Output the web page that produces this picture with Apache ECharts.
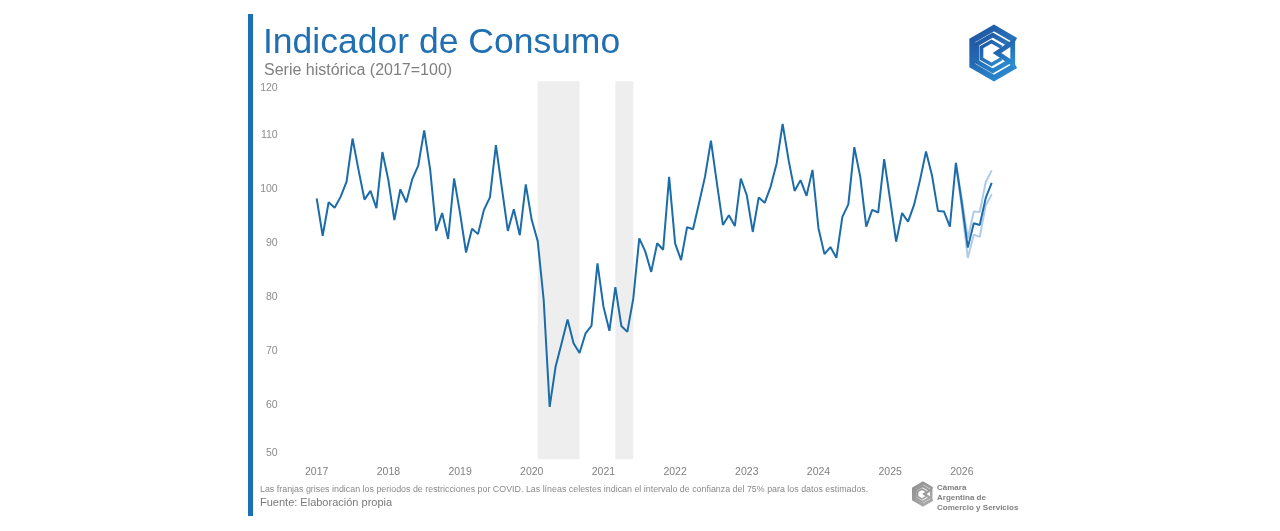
<!DOCTYPE html>
<html>
<head>
<meta charset="utf-8">
<script src="https://cdn.jsdelivr.net/npm/echarts@6/dist/echarts.min.js"></script>
<style>
html,body{margin:0;padding:0;background:#fff;}
#chart{width:1280px;height:531px;}
</style>
</head>
<body>
<div id="chart"></div>
<script>
// ---- data ----
var startYear = 2017;
var monthCount = 114; // Jan 2017 .. Jun 2026
var yTicks = [50, 60, 70, 80, 90, 100, 110, 120];

var consumo = [
  98.3, 91.4, 97.6, 96.6, 98.6, 101.4, 109.4, 103.6, 98.1, 99.7, 96.5, 106.9,
  101.7, 94.3, 100.0, 97.6, 101.9, 104.4, 110.9, 103.6, 92.3, 95.6, 90.8, 102.0,
  95.6, 88.3, 92.7, 91.7, 96.2, 98.5, 108.2, 100.2, 92.3, 96.3, 91.5, 100.9,
  94.3, 90.4, 79.5, 59.7, 67.2, 71.5, 75.9, 71.5, 69.7, 73.3, 74.7, 86.3,
  78.3, 73.8, 81.9, 74.7, 73.6, 79.8, 90.9, 88.5, 84.7, 90.0, 88.8, 102.3,
  90.0, 86.9, 93.0, 92.6, 97.4, 102.3, 109.0, 101.1, 93.4, 95.2, 93.2, 102.0,
  98.9, 92.1, 98.5, 97.5, 100.5, 104.8, 112.1, 105.4, 99.7, 101.7, 98.8, 103.6,
  92.8, 88.0, 89.3, 87.3, 94.9, 97.2, 107.8, 102.3, 93.1, 96.2, 95.7, 105.6,
  98.0, 90.3, 95.6, 94.0, 97.1, 101.7, 107.0, 102.6, 96.0, 95.9, 93.1, 104.9,
  97.4, 89.2, 93.7, 93.4, 98.4, 101.2
];
// confidence interval (75%) for estimated months, starting at index 107
var ciStart = 107;
var ciUpper = [104.9, 98.3, 90.9, 95.9, 95.8, 101.3, 103.5];
var ciLower = [104.9, 96.5, 87.3, 91.6, 91.2, 97.0, 99.1];
// COVID restriction bands (category indices)
var covidBands = [[37, 44], [50, 53]];

// ---- build ----
var categories = [];
for (var i = 0; i < monthCount; i++) {
  var y = startYear + Math.floor(i / 12);
  var m = (i % 12) + 1;
  categories.push(y + '-' + (m < 10 ? '0' + m : m));
}
function padSeries(start, vals) {
  var out = [];
  for (var i = 0; i < monthCount; i++) out.push(null);
  for (var j = 0; j < vals.length; j++) out[start + j] = vals[j];
  return out;
}

var chart = echarts.init(document.getElementById('chart'), null, {renderer: 'canvas'});

var blue = '#1b6ca8';
var light = '#aecbe8';

function hexPts(cx, cy, r) {
  var p = [];
  for (var k = 0; k < 6; k++) {
    var a = Math.PI / 180 * (-90 + 60 * k);
    p.push([cx + r * Math.cos(a), cy + r * Math.sin(a)]);
  }
  return p;
}
function cPts(cx, cy, r) {
  var h = hexPts(cx, cy, r);
  return [h[1], h[0], h[5], h[4], h[3], h[2]];
}
function logo(cx, cy, r, col1, col2, lw) {
  var grad = new echarts.graphic.LinearGradient(0, 0, 1, 1, [
    {offset: 0, color: col1}, {offset: 1, color: col2}]);
  return [
    {type: 'polyline', shape: {points: cPts(cx, cy, r)}, style: {stroke: grad, lineWidth: lw, fill: null, lineJoin: 'miter'}},
    {type: 'polyline', shape: {points: cPts(cx - r * 0.05, cy, r * 0.72)}, style: {stroke: grad, lineWidth: lw * 0.75, fill: null, lineJoin: 'miter'}},
    {type: 'polyline', shape: {points: cPts(cx - r * 0.1, cy, r * 0.46)}, style: {stroke: grad, lineWidth: lw * 0.6, fill: null, lineJoin: 'miter'}},
    {type: 'polygon', shape: {points: [[cx + r * 0.75, cy - r * 0.42], [cx + r * 0.75, cy + r * 0.42], [cx + r * 0.12, cy]]}, style: {stroke: grad, lineWidth: lw * 0.8, fill: null}}
  ];
}

var graphics = [
  {type: 'rect', shape: {x: 248, y: 14, width: 5, height: 502}, style: {fill: '#1a6fb5'}},
  {type: 'text', left: 263, top: 25, style: {text: 'Indicador de Consumo', fontFamily: 'Liberation Sans, Arial, sans-serif', fontSize: 35.5, fill: '#1f6fb2'}},
  {type: 'text', left: 264, top: 63, style: {text: 'Serie histórica (2017=100)', fontFamily: 'Liberation Sans, Arial, sans-serif', fontSize: 16, fill: '#7f7f7f'}},
  {type: 'text', left: 260, top: 485, style: {text: 'Las franjas grises indican los periodos de restricciones por COVID. Las líneas celestes indican el intervalo de confianza del 75% para los datos estimados.', fontFamily: 'Liberation Sans, Arial, sans-serif', fontSize: 8.9, fill: '#8a8a8a'}},
  {type: 'text', left: 260, top: 497.5, style: {text: 'Fuente: Elaboración propia', fontFamily: 'Liberation Sans, Arial, sans-serif', fontSize: 11, fill: '#7a7a7a'}},
  {type: 'text', left: 937, top: 482.5, style: {text: 'Cámara\nArgentina de\nComercio y Servicios', fontFamily: 'Liberation Sans, Arial, sans-serif', fontSize: 8, fontWeight: 'bold', lineHeight: 10, fill: '#808080'}}
];
graphics = graphics.concat(logo(994, 53, 25, '#1f4f9a', '#2b93d9', 6));
graphics = graphics.concat(logo(923, 494, 11, '#8a8a8a', '#b0b0b0', 3));

var markAreaData = covidBands.map(function (b) {
  return [{xAxis: b[0]}, {xAxis: b[1]}];
});

var option = {
  backgroundColor: '#ffffff',
  animation: false,
  grid: {left: 316.7, right: 288.3, top: 81.3, bottom: 71.7, containLabel: false},
  xAxis: {
    type: 'category',
    data: categories,
    boundaryGap: false,
    axisLine: {show: false},
    axisTick: {show: false},
    splitLine: {show: false},
    axisLabel: {
      interval: function (idx) { return idx % 12 === 0; },
      formatter: function (v) { return v.slice(0, 4); },
      color: '#808080',
      fontSize: 10.5,
      fontFamily: 'Liberation Sans, Arial, sans-serif',
      margin: 7
    }
  },
  yAxis: {
    type: 'value',
    min: yTicks[0],
    max: yTicks[yTicks.length - 1],
    interval: 10,
    axisLine: {show: false},
    axisTick: {show: false},
    splitLine: {show: false},
    axisLabel: {
      margin: 39,
      formatter: function (v) {
        if (v === 120) return '{t|' + v + '}';
        if (v === 50) return '{b|' + v + '}';
        return '{n|' + v + '}';
      },
      rich: {
        t: {padding: [13, 0, 0, 0], color: '#8c8c8c', fontSize: 10.5, fontFamily: 'Liberation Sans, Arial, sans-serif'},
        b: {padding: [0, 0, 12, 0], color: '#8c8c8c', fontSize: 10.5, fontFamily: 'Liberation Sans, Arial, sans-serif'},
        n: {color: '#8c8c8c', fontSize: 10.5, fontFamily: 'Liberation Sans, Arial, sans-serif'}
      }
    }
  },
  series: [
    {
      name: 'COVID',
      type: 'line',
      data: [],
      silent: true,
      markArea: {silent: true, itemStyle: {color: '#eeeeee'}, data: markAreaData}
    },
    {
      name: 'Superior',
      type: 'line',
      data: padSeries(ciStart, ciUpper),
      showSymbol: false,
      lineStyle: {color: light, width: 2},
      z: 3
    },
    {
      name: 'Inferior',
      type: 'line',
      data: padSeries(ciStart, ciLower),
      showSymbol: false,
      lineStyle: {color: light, width: 2},
      z: 3
    },
    {
      name: 'Indicador',
      type: 'line',
      data: consumo,
      showSymbol: false,
      lineStyle: {color: blue, width: 2},
      z: 5
    }
  ],
  graphic: graphics
};
chart.setOption(option);
</script>
</body>
</html>
